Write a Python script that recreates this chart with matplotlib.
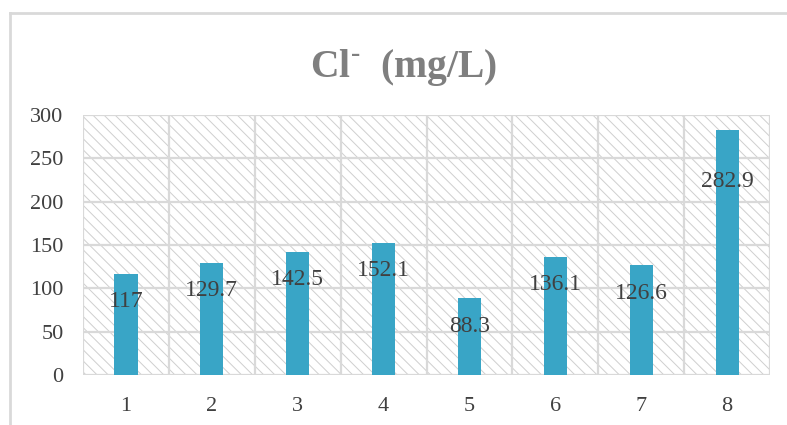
import matplotlib.pyplot as plt
from matplotlib.patches import Rectangle
from matplotlib.lines import Line2D

# Chloride concentration per sample point
samples = ["1", "2", "3", "4", "5", "6", "7", "8"]
cl_mg_per_l = [117, 129.7, 142.5, 152.1, 88.3, 136.1, 126.6, 282.9]
y_ticks = [0, 50, 100, 150, 200, 250, 300]

BAR = "#39a5c6"
GRID = "#d9d9d9"
TEXT = "#404040"

plt.rcParams["font.family"] = ["Liberation Serif", "DejaVu Serif"]
plt.rcParams["mathtext.fontset"] = "custom"
plt.rcParams["mathtext.rm"] = "Liberation Serif:bold"
plt.rcParams["hatch.linewidth"] = 0.7

fig = plt.figure(figsize=(7.87, 4.25), dpi=100)
ax = fig.add_axes([0.1055, 0.1176, 0.873, 0.6118])

# hatched plot-area background
ax.add_patch(Rectangle((0, 0), 1, 1, transform=ax.transAxes, facecolor="white",
                       edgecolor="#cfcfcf", hatch="\\\\\\", lw=0, zorder=0))

x = list(range(1, len(samples) + 1))
ax.bar(x, cl_mg_per_l, width=0.27, color=BAR, zorder=3)

# labels sit a little below the bar tops; the tallest one further down
for i, (xi, v) in enumerate(zip(x, cl_mg_per_l)):
    drop = 37 if i == len(samples) - 1 else 20
    ax.annotate(f"{v:g}", (xi, v), xytext=(0, -drop), textcoords="offset points",
                ha="center", va="center", fontsize=17, color=TEXT, zorder=4)

ax.set_xlim(0.5, len(samples) + 0.5)
ax.set_ylim(0, 300)
ax.set_yticks(y_ticks)
ax.set_xticks(x)
ax.set_xticklabels(samples)

for b in [i + 0.5 for i in range(len(samples) + 1)]:
    ax.axvline(b, color=GRID, lw=1.6, zorder=1)
for t in y_ticks:
    ax.axhline(t, color=GRID, lw=1.6, zorder=1)

for s in ax.spines.values():
    s.set_visible(False)
ax.tick_params(length=0, labelsize=16, colors=TEXT)
ax.tick_params(axis="x", pad=16)
ax.tick_params(axis="y", pad=14)

fig.text(0.513, 0.842, "Cl$^{\\text{-}}$  (mg/L)", ha="center", va="center",
         fontsize=28.5, fontweight="bold", color="#7f7f7f")

# light outer frame along the top and left
fig.add_artist(Line2D([10 / 787, 10 / 787], [0, 1 - 13 / 425], color=GRID, lw=2))
fig.add_artist(Line2D([10 / 787, 1], [1 - 13 / 425, 1 - 13 / 425], color=GRID, lw=2))

fig.savefig("out.png", dpi=100)
